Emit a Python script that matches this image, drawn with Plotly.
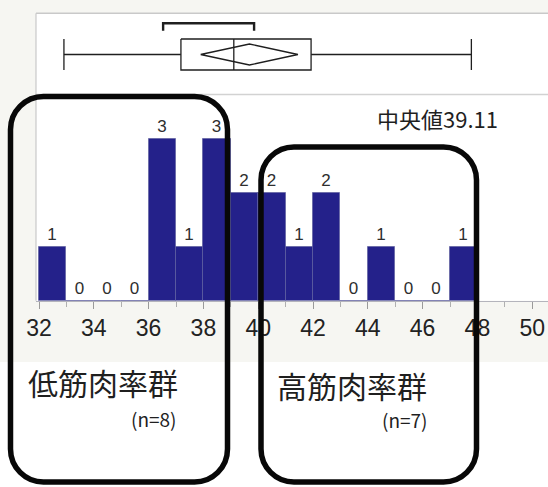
import plotly.graph_objects as go

# --- histogram data (bin width 1) ---
bin_left = [32, 33, 34, 35, 36, 37, 38, 39, 40, 41, 42, 43, 44, 45, 46, 47]
counts = [1, 0, 0, 0, 3, 1, 3, 2, 2, 1, 2, 0, 1, 0, 0, 1]
tick_values = [32, 34, 36, 38, 40, 42, 44, 46, 48, 50]

# --- outlier box plot summary ---
whisker_lo = 32.91
q1 = 37.18
median = 39.11
q3 = 41.93
whisker_hi = 47.78
mean_ci_lo = 37.90
mean_val = 39.68
mean_ci_hi = 41.45
shortest_half = [36.53, 39.85]

# --- group labels ---
group_names = ["低筋肉率群", "高筋肉率群"]
group_n = [8, 7]

W, H = 548, 487


def px(x):
    return x / W


def py(y):
    return 1 - y / H


def rounded_rect(x0, y0, x1, y1, r):
    """Rounded rectangle path in paper coordinates, corners from cubic curves."""
    k = 0.5523 * r
    pts = [
        ("M", [(x0 + r, y0)]),
        ("L", [(x1 - r, y0)]),
        ("C", [(x1 - r + k, y0), (x1, y0 + r - k), (x1, y0 + r)]),
        ("L", [(x1, y1 - r)]),
        ("C", [(x1, y1 - r + k), (x1 - r + k, y1), (x1 - r, y1)]),
        ("L", [(x0 + r, y1)]),
        ("C", [(x0 + r - k, y1), (x0, y1 - r + k), (x0, y1 - r)]),
        ("L", [(x0, y0 + r)]),
        ("C", [(x0, y0 + r - k), (x0 + r - k, y0), (x0 + r, y0)]),
    ]
    out = []
    for cmd, cs in pts:
        out.append(cmd + " " + " ".join(f"{px(a):.5f},{py(b):.5f}" for a, b in cs))
    return " ".join(out) + " Z"


centers = [b + 0.5 for b in bin_left]
BAR = "#24218a"
INK = "#1f1f1f"

fig = go.Figure()

# histogram bars
fig.add_trace(go.Bar(
    x=centers, y=counts, width=1,
    marker=dict(color=BAR, line=dict(color="rgba(95,95,160,0.7)", width=1)),
    text=[str(c) for c in counts], textposition="outside", constraintext="none",
    textfont=dict(family="Liberation Sans, Arial", size=17, color="#2e2e2e"),
    cliponaxis=False, xaxis="x", yaxis="y", showlegend=False,
))

# box plot (vertical positions in panel pixel units)
yc, yt, yb = 54.5, 39, 70
dt, db = 44, 65
line = dict(color=INK, width=1.3)
common = dict(xaxis="x2", yaxis="y2", mode="lines", showlegend=False, hoverinfo="skip")
fig.add_trace(go.Scatter(x=[whisker_lo, q1, None, q3, whisker_hi],
                         y=[yc, yc, None, yc, yc], line=line, **common))
fig.add_trace(go.Scatter(x=[whisker_lo, whisker_lo, None, whisker_hi, whisker_hi],
                         y=[yt, yb, None, yt, yb], line=line, **common))
fig.add_trace(go.Scatter(x=[q1, q3, q3, q1, q1], y=[yt, yt, yb, yb, yt],
                         fill="toself", fillcolor="white", line=line, **common))
fig.add_trace(go.Scatter(x=[median, median], y=[yt, yb], line=line, **common))
fig.add_trace(go.Scatter(x=[mean_ci_lo, mean_val, mean_ci_hi, mean_val, mean_ci_lo],
                         y=[yc, dt, yc, db, yc], line=line, **common))
fig.add_trace(go.Scatter(x=[shortest_half[0], shortest_half[0], shortest_half[1], shortest_half[1]],
                         y=[30.7, 23.3, 23.3, 30.7], line=dict(color=INK, width=2.4), **common))

x_lo = 32 - 3 / 27.4
x_hi = 32 + (W - 39) / 27.4
x_range = [x_lo, x_hi]
base_y, top_y = 300.7, 100
per_count = 54

shapes = [
    dict(type="rect", xref="paper", yref="paper", x0=0, x1=1, y0=py(362), y1=1,
         fillcolor="#f6f6f2", line=dict(width=0), layer="below"),
    dict(type="rect", xref="paper", yref="paper", x0=px(36), x1=1, y0=py(base_y), y1=py(13.3),
         fillcolor="white", line=dict(width=0), layer="below"),
    # panel frame lines
    dict(type="line", xref="paper", yref="paper", x0=px(36), x1=1, y0=py(13.3), y1=py(13.3),
         line=dict(color="#c9c9c9", width=1.5), layer="below"),
    dict(type="line", xref="paper", yref="paper", x0=px(36), x1=1, y0=py(94.5), y1=py(94.5),
         line=dict(color="#d2d2d2", width=1.5), layer="below"),
    dict(type="line", xref="paper", yref="paper", x0=px(36), x1=px(36), y0=py(base_y), y1=py(13.3),
         line=dict(color="#c9c9c9", width=1.2), layer="below"),
    # group outlines
    dict(type="path", xref="paper", yref="paper", path=rounded_rect(10.5, 96.5, 227.5, 482, 33),
         line=dict(color="#080808", width=5.5), layer="above"),
    dict(type="path", xref="paper", yref="paper", path=rounded_rect(261, 147, 476.5, 482, 33),
         line=dict(color="#080808", width=5.5), layer="above"),
]

cjk = "Noto Sans CJK JP"
annotations = [
    dict(x=px(437), y=py(118), xref="paper", yref="paper", text=f"中央値{median:.2f}",
         showarrow=False, font=dict(family=cjk, size=22, color=INK), xanchor="center", yanchor="middle"),
    dict(x=px(26), y=py(382), xref="paper", yref="paper", text=group_names[0],
         showarrow=False, font=dict(family=cjk, size=30, color=INK), xanchor="left", yanchor="middle"),
    dict(x=px(179), y=py(418), xref="paper", yref="paper", text=f"(n={group_n[0]})",
         showarrow=False, font=dict(family=cjk, size=19, color=INK), xanchor="right", yanchor="middle"),
    dict(x=px(275), y=py(385), xref="paper", yref="paper", text=group_names[1],
         showarrow=False, font=dict(family=cjk, size=30, color=INK), xanchor="left", yanchor="middle"),
    dict(x=px(430), y=py(419), xref="paper", yref="paper", text=f"(n={group_n[1]})",
         showarrow=False, font=dict(family=cjk, size=19, color=INK), xanchor="right", yanchor="middle"),
]

fig.update_layout(
    width=W, height=H, margin=dict(l=0, r=0, t=0, b=0, pad=0, autoexpand=False),
    paper_bgcolor="white", plot_bgcolor="rgba(0,0,0,0)",
    bargap=0, showlegend=False,
    xaxis=dict(domain=[px(36), 1], range=x_range, autorange=False, automargin=False,
               tickmode="array", tickvals=tick_values,
               ticks="outside", ticklen=7, tickcolor="#9a9a9a", tickwidth=1,
               minor=dict(dtick=1, tick0=32, ticks="outside", ticklen=5, tickcolor="#b0b0b0"),
               showline=True, linecolor="#b4b4bc", linewidth=1, showgrid=False, zeroline=False,
               tickfont=dict(family="Liberation Sans, Arial", size=23, color="#222222"),
               fixedrange=True),
    yaxis=dict(domain=[py(base_y), py(top_y)], range=[0, (base_y - top_y) / per_count],
               autorange=False, automargin=False, visible=False, fixedrange=True),
    xaxis2=dict(domain=[px(36), 1], range=x_range, autorange=False, automargin=False,
                anchor="y2", visible=False),
    yaxis2=dict(domain=[py(94.5), py(13.3)], range=[94.5, 13.3], autorange=False,
                automargin=False, anchor="x2", visible=False),
    shapes=shapes, annotations=annotations,
)

fig.write_html("out.html")
